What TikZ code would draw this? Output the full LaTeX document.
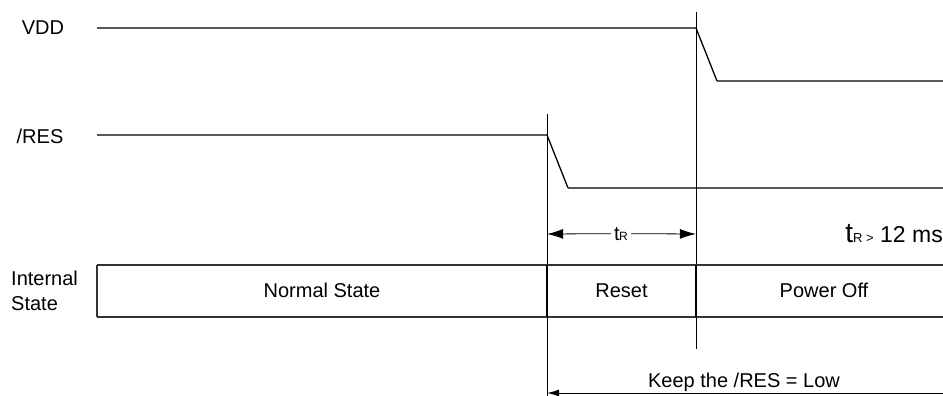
\documentclass[tikz,border=0pt]{standalone}
\usepackage{fontspec}
\setmainfont{Liberation Sans}
\usetikzlibrary{arrows.meta}
\begin{document}
\begin{tikzpicture}[x=1pt,y=-1pt,
    pt/.style={inner sep=0pt,minimum size=0pt},
    sig/.style={line width=1.3pt},
    guide/.style={line width=0.8pt},
    lbl/.style={font=\fontsize{20}{25}\selectfont,inner sep=0pt},
    tip/.style={-{Latex[length=16pt,width=10pt]}},
    keeptip/.style={-{Latex[length=12pt,width=7pt]}}]
      \useasboundingbox (0,0) rectangle (943,396);%

      % labels on the left
      \node[lbl,anchor=base] (VL) at (43,35) {VDD};%
      \node[lbl,anchor=base] (RL) at (40,143) {/RES};%
      \node[lbl,align=left,anchor=west] (IL) at (11,291) {Internal\\State};%

      % VDD
      \node[pt] (V1) at (97,28) {};%
      \node[pt] (V2) at (696,28) {};%
      \node[pt] (V3) at (717,81) {};%
      \node[pt] (V4) at (943,81) {};%

      % /RES
      \node[pt] (R1) at (97,135) {};%
      \node[pt] (R2) at (547,135) {};%
      \node[pt] (R3) at (568,188) {};%
      \node[pt] (R4) at (943,188) {};%

      % guide lines
      \node[pt] (G1) at (547,114) {};%
      \node[pt] (G2) at (547,396) {};%
      \node[pt] (G3) at (696,12) {};%
      \node[pt] (G4) at (696,349) {};%

      % state box
      \node[pt] (B1) at (943,265) {};%
      \node[pt] (B2) at (97,265) {};%
      \node[pt] (B3) at (97,317) {};%
      \node[pt] (B4) at (943,317) {};%
      \node[pt] (D1) at (547,265) {};%
      \node[pt] (D2) at (547,317) {};%
      \node[pt] (D3) at (696,265) {};%
      \node[pt] (D4) at (696,317) {};%

      \node[lbl,anchor=base] (NS) at (322,297) {Normal State};%
      \node[lbl,anchor=base] (RS) at (621.5,297) {Reset};%
      \node[lbl,anchor=base] (PO) at (824,297) {Power Off};%

      % t_R
      \node[pt] (T1) at (547,234) {};%
      \node[pt] (T2) at (696,234) {};%
      \node[anchor=base,inner xsep=3pt,inner ysep=2pt] (TR) at (621,240)
      {\fontsize{20}{20}\selectfont t\kern-0.5pt\fontsize{12}{12}\selectfont R};%
      \node[anchor=base east,inner sep=0pt] (TC) at (943,242)
      {\fontsize{28}{28}\selectfont t\fontsize{13}{13}\selectfont R
        >\fontsize{23}{23}\selectfont{} 12 ms};%

      % keep low
      \node[pt] (K1) at (547,393) {};%
      \node[pt] (K2) at (943,393) {};%
      \node[lbl,anchor=base] (KT) at (744,387) {Keep the /RES = Low};%

      \draw[sig] (V1) -- (V2) -- (V3) -- (V4);%
      \draw[sig] (R1) -- (R2) -- (R3) -- (R4);%

      \draw[guide] (G1) -- (G2);%
      \draw[guide] (G3) -- (G4);%

      \draw[line width=1.5pt,draw=black!80] (B1) -- (B2) -- (B3) -- (B4);%
      \draw[line width=2pt] (D1) -- (D2);%
      \draw[line width=2pt] (D3) -- (D4);%

      \draw[guide,tip] (TR) -- (T1);%
      \draw[guide,tip] (TR) -- (T2);%

      \draw[guide,keeptip] (K2) -- (K1);%
    \end{tikzpicture}
\end{document}
